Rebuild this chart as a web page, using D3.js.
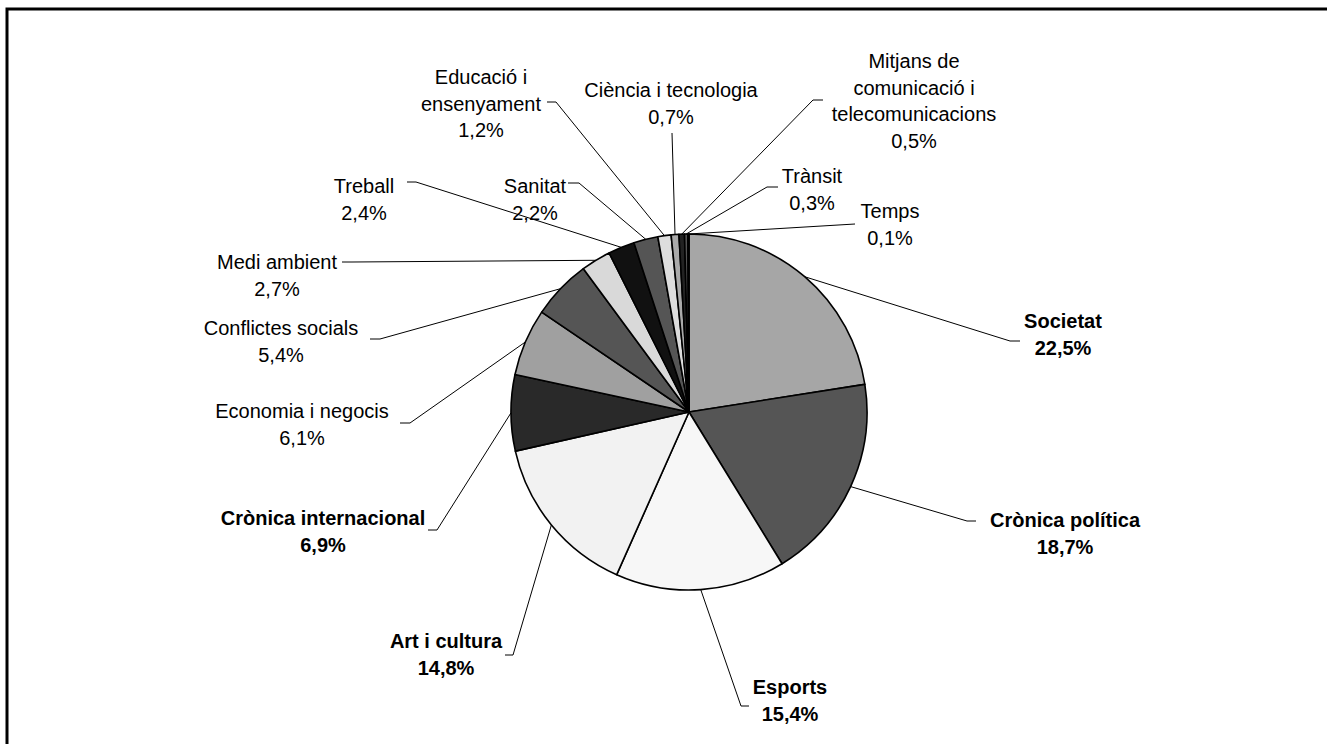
<!DOCTYPE html>
<html>
<head>
<meta charset="utf-8">
<script src="https://cdn.jsdelivr.net/npm/d3@7"></script>
<style>
  html, body { margin: 0; padding: 0; background: #fff; }
  svg { display: block; }
  text { font-family: "Liberation Sans", Arial, sans-serif; font-size: 20px; fill: #000; }
</style>
</head>
<body>
<svg id="chart" width="1327" height="744"></svg>
<script>
// dades
const categories = ['Societat', 'Crònica política', 'Esports', 'Art i cultura', 'Crònica internacional',
    'Economia i negocis', 'Conflictes socials', 'Medi ambient', 'Treball', 'Sanitat',
    'Educació i ensenyament', 'Ciència i tecnologia', 'Mitjans de comunicació i telecomunicacions',
    'Trànsit', 'Temps'];
const values = [22.5, 18.7, 15.4, 14.8, 6.9, 6.1, 5.4, 2.7, 2.4, 2.2, 1.2, 0.7, 0.5, 0.3, 0.1];
const labelLines = [
    ['Societat'], ['Crònica política'], ['Esports'], ['Art i cultura'], ['Crònica internacional'],
    ['Economia i negocis'], ['Conflictes socials'], ['Medi ambient'], ['Treball'], ['Sanitat'],
    ['Educació i', 'ensenyament'], ['Ciència i tecnologia'], ['Mitjans de', 'comunicació i', 'telecomunicacions'],
    ['Trànsit'], ['Temps']
];
const boldCats = ['Societat', 'Crònica política', 'Esports', 'Art i cultura', 'Crònica internacional'];

// estil de les porcions
const fills = ['#a6a6a6', '#555555', '#f7f7f7', '#f2f2f2', '#292929', '#a0a0a0', '#555555', '#d9d9d9',
    '#111111', '#555555', '#dddddd', '#aaaaaa', '#222222', '#555555', '#222222'];

// posició de les etiquetes: centre x, y de la primera línia, colze i final de la línia guia
const labelPos = [
    { x: 1063, y: 321, elbow: [1010, 341], end: [1020, 341] },
    { x: 1065, y: 520, elbow: [967, 521], end: [976, 521] },
    { x: 790, y: 687, elbow: [741, 706], end: [749, 706] },
    { x: 446, y: 641, elbow: [513, 655], end: [505, 655] },
    { x: 323, y: 518, elbow: [437, 530], end: [428, 530] },
    { x: 302, y: 411, elbow: [410, 423], end: [400, 423] },
    { x: 281, y: 328, elbow: [380, 339], end: [370, 339] },
    { x: 277, y: 262, elbow: [352, 262], end: [342, 262] },
    { x: 364, y: 186, elbow: [416, 182], end: [407, 182] },
    { x: 535, y: 186, elbow: [579, 183], end: [568, 183] },
    { x: 481, y: 77, elbow: [556, 102], end: [547, 102] },
    { x: 671, y: 90, elbow: [672, 133], end: [672, 133] },
    { x: 914, y: 61, elbow: [813, 100], end: [823, 100] },
    { x: 812, y: 176, elbow: [767, 187], end: [778, 187] },
    { x: 890, y: 211, elbow: [855, 224], end: [855, 224] }
];

const cx = 689, cy = 412, radius = 178;
const lineH = 26.5;

const svg = d3.select('#chart');

// marc
svg.append('path')
    .attr('d', 'M7,744 L7,9 L1327,9')
    .attr('fill', 'none')
    .attr('stroke', '#000')
    .attr('stroke-width', 3);

const data = categories.map((c, i) => ({ name: c, value: values[i], i }));

const pie = d3.pie().value(d => d.value).sort(null);
const arcs = pie(data);
const arc = d3.arc().innerRadius(0).outerRadius(radius);
const edgeArc = d3.arc().innerRadius(radius).outerRadius(radius);

const g = svg.append('g').attr('transform', `translate(${cx},${cy})`);

g.selectAll('path.slice')
    .data(arcs)
    .enter()
    .append('path')
    .attr('class', 'slice')
    .attr('d', arc)
    .attr('fill', d => fills[d.data.i])
    .attr('stroke', '#000')
    .attr('stroke-width', 1.6)
    .attr('stroke-linejoin', 'round');

// línies guia
svg.selectAll('polyline.leader')
    .data(arcs)
    .enter()
    .append('polyline')
    .attr('class', 'leader')
    .attr('points', d => {
        const p = edgeArc.centroid(d);
        const lp = labelPos[d.data.i];
        return [[p[0] + cx, p[1] + cy], lp.elbow, lp.end].map(q => q.join(',')).join(' ');
    })
    .attr('fill', 'none')
    .attr('stroke', '#000')
    .attr('stroke-width', 1);

// etiquetes
const labels = svg.selectAll('text.label')
    .data(arcs)
    .enter()
    .append('text')
    .attr('class', 'label')
    .attr('text-anchor', 'middle')
    .attr('dominant-baseline', 'central')
    .style('font-weight', d => boldCats.includes(d.data.name) ? 'bold' : 'normal');

labels.each(function (d) {
    const lp = labelPos[d.data.i];
    const lines = labelLines[d.data.i].concat([d3.format('.1f')(d.data.value).replace('.', ',') + '%']);
    const t = d3.select(this);
    lines.forEach((ln, k) => {
        t.append('tspan')
            .attr('x', lp.x)
            .attr('y', lp.y + k * lineH)
            .text(ln);
    });
});
</script>
</body>
</html>
